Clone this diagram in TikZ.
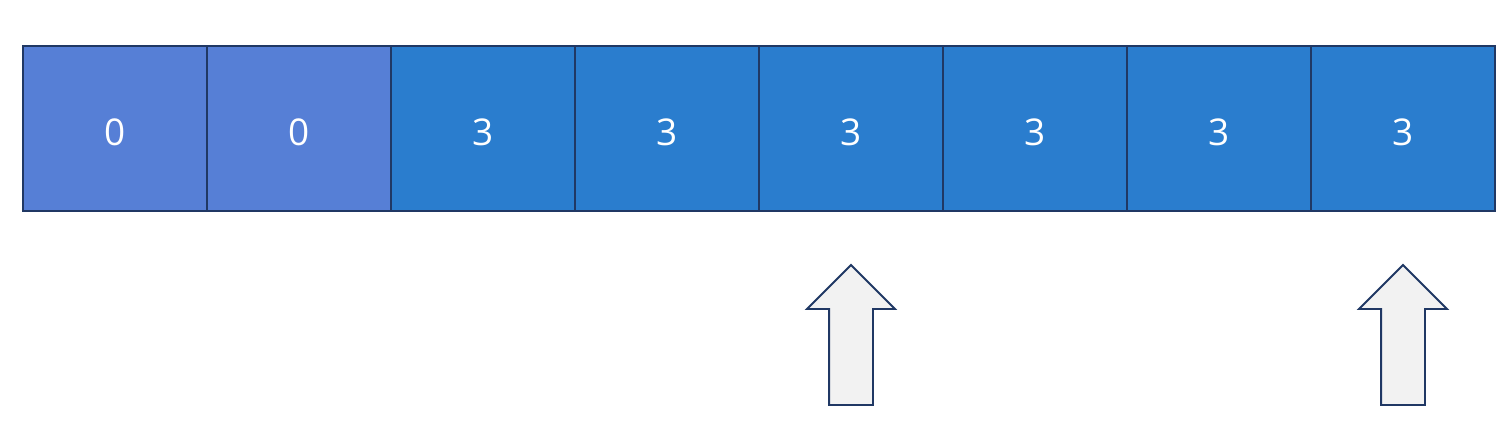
\documentclass[tikz,border=0pt]{standalone}
\usepackage{fontspec}
\usetikzlibrary{positioning,shapes.arrows}
\newfontfamily\cellfont{Open Sans}
\definecolor{zeroblue}{HTML}{567FD6}
\definecolor{threeblue}{HTML}{2A7DCE}
\definecolor{edgenavy}{HTML}{203864}
\definecolor{ptrgray}{HTML}{F2F2F2}

\begin{document}
\begin{tikzpicture}[thick,node distance=0pt,
  cell/.style={draw=edgenavy,line width=1.1pt,minimum width=3.68cm,minimum height=3.3cm,inner sep=0pt,outer sep=0pt,text height=0.67cm,text depth=0pt,text=white,font=\cellfont\fontsize{21}{24}\selectfont},
  zero/.style={cell,fill=zeroblue},
  three/.style={cell,fill=threeblue},
  pointer/.style={single arrow,draw=edgenavy,fill=ptrgray,line width=1.1pt,inner sep=0.42cm,outer sep=0pt,minimum height=2.8cm,minimum width=1.72cm,single arrow head extend=0.44cm,single arrow tip angle=90,shape border rotate=90,anchor=tip}]

    \useasboundingbox (0,0) rectangle (30.12,-8.52);

    \node[zero] (1) at (2.3,-2.57) {0};
    \node[zero] (2) [right=of 1] {0};
    \node[three] (3) [right=of 2] {3};
    \node[three] (4) [right=of 3] {3};
    \node[three] (5) [right=of 4] {3};
    \node[three] (6) [right=of 5] {3};
    \node[three] (7) [right=of 6] {3};
    \node[three] (8) [right=of 7] {3};

    \node[pointer] (p1) at ([yshift=-1.08cm]5.south) {};
    \node[pointer] (p2) at ([yshift=-1.08cm]8.south) {};

\end{tikzpicture}
\end{document}
